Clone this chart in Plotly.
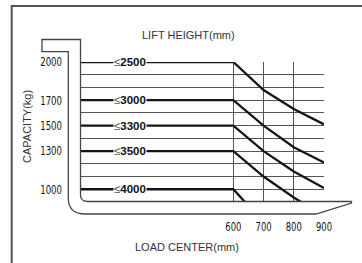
import plotly.graph_objects as go

# ---------------- data ----------------
load_center_mm = [600, 700, 800, 900]
lift_height_labels = ["≤2500", "≤3000", "≤3300", "≤3500", "≤4000"]
rated_capacity_kg = [2000, 1700, 1500, 1300, 1000]
cap_2500 = [2000, 1780, 1630, 1510]
cap_3000 = [1700, 1500, 1330, 1210]
cap_3300 = [1500, 1300, 1140, 1010]
cap_3500 = [1300, 1100, 935, 790]
cap_4000 = [1000, 740, None, None]
capacity_series = [cap_2500, cap_3000, cap_3300, cap_3500, cap_4000]

x_tick_labels = ["600", "700", "800", "900"]
y_grid_values = list(range(900, 2001, 100))

# ---------------- layout geometry ----------------
W, H = 362, 263
L, R, T, B = 81, 324, 62, 202
X_RANGE = [96, 900]
Y_RANGE = [900, 2000]

def px(x):
    return (x - L) / (R - L)

def py(y):
    return (B - y) / (B - T)

NARROW = "Liberation Sans Narrow, DejaVu Sans Condensed, Arial Narrow, Liberation Sans, sans-serif"
SANS = "Liberation Sans, Arial, sans-serif"

fig = go.Figure()

for vals in capacity_series:
    fig.add_trace(go.Scatter(
        x=[X_RANGE[0]] + load_center_mm,
        y=[vals[0]] + vals,
        mode="lines",
        line=dict(color="#151515", width=2.3),
        hoverinfo="skip",
        showlegend=False,
        connectgaps=False,
    ))

# lift-height labels on the horizontal segments
for lab, cap in zip(lift_height_labels, rated_capacity_kg):
    fig.add_annotation(
        x=258, y=cap, xref="x", yref="y", xanchor="center", yanchor="middle",
        text="<span style='color:#555'>≤</span><b>" + lab[1:] + "</b>",
        showarrow=False, bgcolor="white", borderpad=0,
        font=dict(family=SANS, size=11.5, color="#111"),
    )

def pth(points):
    s = ""
    for cmd, *pts in points:
        s += cmd
        s += " ".join(f"{px(a):.5f},{py(b):.5f}" for a, b in zip(pts[0::2], pts[1::2]))
        s += " "
    return s.strip()

# fork-shaped outline
fork = pth([
    ("M", 42, 39.5), ("L", 80.5, 39.5), ("L", 80.5, 195),
    ("Q", 80.5, 201.5, 88, 201.5), ("L", 351.5, 201.5),
    ("L", 351.5, 203), ("L", 316, 214), ("L", 85, 214),
    ("Q", 68.3, 214, 68.3, 198), ("L", 68.3, 51.7), ("L", 42, 51.7), ("Z",),
])
fig.add_shape(type="path", path=fork, xref="paper", yref="paper",
              line=dict(color="#444", width=1.3), layer="above")

# outer frame
frame = pth([("M", 11.7, 270), ("L", 11.7, 6), ("L", 370, 6)])
fig.add_shape(type="path", path=frame, xref="paper", yref="paper",
              line=dict(color="#555", width=2))

# axis titles
title_font = dict(family=SANS, size=11, color="#333")
fig.add_annotation(x=px(188), y=py(35), xref="paper", yref="paper",
                   xanchor="center", yanchor="middle",
                   text="LIFT HEIGHT(mm)", showarrow=False, font=title_font)
fig.add_annotation(x=px(187), y=py(247), xref="paper", yref="paper",
                   xanchor="center", yanchor="middle",
                   text="LOAD CENTER(mm)", showarrow=False, font=title_font)
fig.add_annotation(x=px(27), y=py(127), xref="paper", yref="paper",
                   xanchor="center", yanchor="middle",
                   text="CAPACITY(kg)", showarrow=False, textangle=-90,
                   font=title_font)

fig.update_layout(
    width=W, height=H,
    margin=dict(l=L, r=W - R, t=T, b=H - B),
    paper_bgcolor="white", plot_bgcolor="white",
    xaxis=dict(range=X_RANGE, tickvals=load_center_mm, ticktext=x_tick_labels,
               showgrid=True, gridcolor="#555", gridwidth=1, zeroline=False,
               showline=False, ticks="", ticklabelstandoff=15,
               tickfont=dict(family=NARROW, size=13, color="#111")),
    yaxis=dict(range=Y_RANGE, tickvals=y_grid_values,
               ticktext=[str(v) if v in rated_capacity_kg else "" for v in y_grid_values],
               showgrid=True, gridcolor="#555", gridwidth=1, zeroline=False,
               showline=False, ticks="", ticklabelstandoff=18,
               tickfont=dict(family=NARROW, size=12.5, color="#111")),
)

# narrow the numeric tick labels horizontally (the original uses a condensed face)
squeeze_js = """
(function(){
  function squeeze(){
    var gd = document.getElementById('{plot_id}');
    if(!gd) return;
    var groups = [
      ['.xtick text', 0.72, 'mid'],
      ['.ytick text', 0.76, 'end']
    ];
    groups.forEach(function(g){
      gd.querySelectorAll(g[0]).forEach(function(t){
        if(t.getAttribute('data-sq')) return;
        var b = t.getBBox();
        var ax = g[2] === 'end' ? b.x + b.width : b.x + b.width / 2;
        var tr = t.getAttribute('transform') || '';
        t.setAttribute('transform', tr + ' translate(' + ax + ',0) scale(' + g[1] + ',1) translate(' + (-ax) + ',0)');
        t.setAttribute('data-sq', '1');
      });
    });
  }
  squeeze();
  [20, 100, 300].forEach(function(ms){ setTimeout(squeeze, ms); });
})();
document.body.style.margin='0';
"""

fig.write_html("out.html", config={"displayModeBar": False, "staticPlot": True},
               post_script=squeeze_js)
